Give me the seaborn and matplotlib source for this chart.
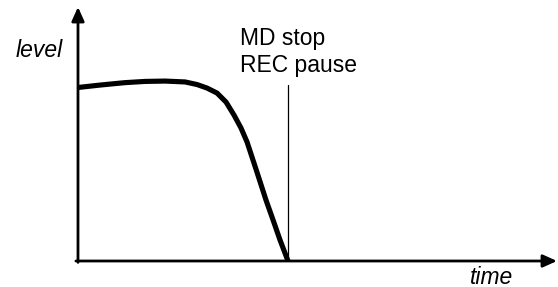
import matplotlib
matplotlib.use("Agg")
import matplotlib.pyplot as plt
import seaborn as sns
import pandas as pd

# data (time in arbitrary units, level in % of start level)
time_values = [0.0, 1.05, 2.24, 3.19, 4.14, 5.10, 5.67, 6.14, 6.62, 7.05,
               7.43, 7.76, 8.05, 8.52, 8.95, 9.29, 9.62, 10.0]
level_values = [100.0, 101.4, 102.8, 103.5, 103.7, 103.2, 101.7, 99.7, 96.8, 91.6,
                84.1, 76.7, 68.6, 51.3, 35.2, 23.6, 12.1, 0.0]
stop_time = 10.0
stop_label_lines = ["MD stop", "REC pause"]
x_label = "time"
y_label = "level"

sns.set_theme(style="white")
plt.rcParams["font.family"] = ["Liberation Sans", "DejaVu Sans"]

df = pd.DataFrame({"time": time_values, "level": level_values})

fig = plt.figure(figsize=(5.58, 2.87), dpi=100)
ax = fig.add_axes([0, 0, 1, 1])
ax.set_xlim(-3.714, 22.857)
ax.set_ylim(-14.99, 150.43)
ax.axis("off")

sns.lineplot(data=df, x="time", y="level", ax=ax, color="black", linewidth=3.7,
             solid_capstyle="butt", solid_joinstyle="round", zorder=3, sort=False)

arrow_style = "-|>,head_length=0.6,head_width=0.27"
# y axis
ax.annotate("", xy=(0, 146.4), xytext=(0, -0.8),
            arrowprops=dict(arrowstyle=arrow_style, lw=2.0, color="black",
                            mutation_scale=14, shrinkA=0, shrinkB=0))
# x axis
ax.annotate("", xy=(22.81, 0), xytext=(-0.1, 0),
            arrowprops=dict(arrowstyle=arrow_style, lw=2.0, color="black",
                            mutation_scale=14, shrinkA=0, shrinkB=0))

# stop marker
ax.plot([stop_time, stop_time], [0, 101.4], color="black", lw=0.9, zorder=2)

fs = 16.5
ax.text(-0.71, 117.6, y_label, ha="right", va="baseline", fontsize=fs,
        style="italic", color="black")
ax.text(7.71, 124.5, stop_label_lines[0], ha="left", va="baseline", fontsize=fs, color="black")
ax.text(7.71, 108.9, stop_label_lines[1], ha="left", va="baseline", fontsize=fs, color="black")
ax.text(18.67, -13.0, x_label, ha="left", va="baseline", fontsize=fs,
        style="italic", color="black")

fig.savefig("out.png", dpi=100, facecolor="white")
